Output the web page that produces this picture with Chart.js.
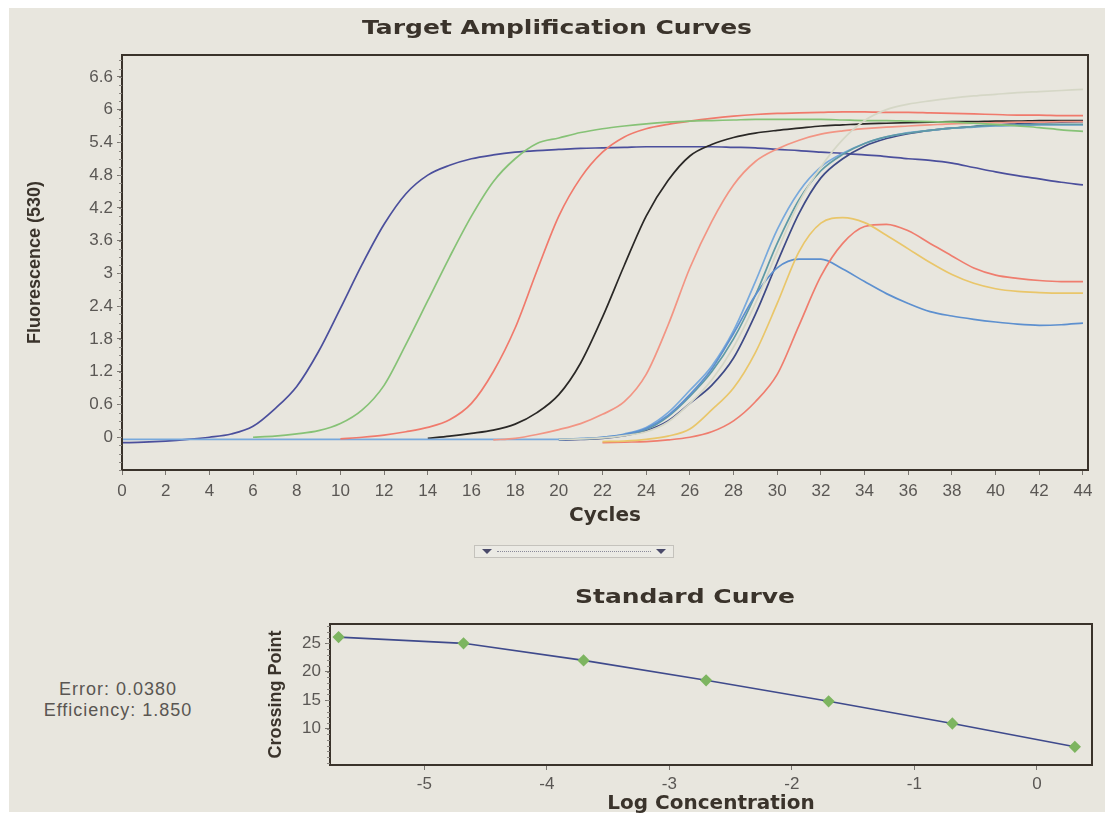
<!DOCTYPE html>
<html>
<head>
<meta charset="utf-8">
<script src="https://cdn.jsdelivr.net/npm/chart.js@4.4.1/dist/chart.umd.min.js"></script>
<style>
  body { margin: 0; background: #fff; }
  #paper { position: absolute; left: 9px; top: 8px; width: 1096px; height: 804px; background: #e8e6de; }
  canvas { position: absolute; }
  #ampChart { left: 9px; top: 8px; }
  #stdChart { left: 265px; top: 570px; }
  .stats { position: absolute; left: 20px; width: 196px; text-align: center; font: 18px "Liberation Sans", Arial, sans-serif; color: #5a5652; letter-spacing: 1px; }
  #slider { position: absolute; left: 474px; top: 545px; width: 198px; height: 11px; border: 1px solid #c4c2bc; background: #ebeae4; }
  #slider .dots { position: absolute; left: 22px; right: 22px; top: 5px; border-top: 1px dotted #8a8a9a; }
  #slider .tri { position: absolute; top: 3px; width: 0; height: 0; border-left: 5px solid transparent; border-right: 5px solid transparent; border-top: 5px solid #4a4a6a; }
</style>
</head>
<body>
<div id="paper"></div>
<canvas id="ampChart" width="1096" height="530"></canvas>
<div id="slider"><div class="tri" style="left:7px"></div><div class="dots"></div><div class="tri" style="right:7px"></div></div>
<div class="stats" style="top:679px">Error: 0.0380</div>
<div class="stats" style="top:700px">Efficiency: 1.850</div>
<canvas id="stdChart" width="840" height="246"></canvas>
<script>
// amplification curves, one value per cycle (null = not plotted yet)
const cycles = [0,1,2,3,4,5,6,7,8,9,10,11,12,13,14,15,16,17,18,19,20,21,22,23,24,25,26,27,28,29,30,31,32,33,34,35,36,37,38,39,40,41,42,43,44];
const cycleTicks = [0,2,4,6,8,10,12,14,16,18,20,22,24,26,28,30,32,34,36,38,40,42,44];
const fluorTicks = [0,0.6,1.2,1.8,2.4,3,3.6,4.2,4.8,5.4,6,6.6];

const navy1 = [-0.10,-0.09,-0.07,-0.04,0.00,0.06,0.20,0.52,0.93,1.57, 2.36,3.17,3.90,4.46,4.80,4.98,5.10,5.17,5.22,5.25, 5.27,5.29,5.30,5.31,5.32,5.32,5.32,5.32,5.31,5.30, 5.27,5.25,5.22,5.20,5.17,5.14,5.10,5.07,5.02,4.94, 4.86,4.79,4.73,4.67,4.62];
const green = [null,null,null,null,null,null,0.00,0.02,0.06,0.12, 0.25,0.50,0.95,1.70,2.50,3.30,4.05,4.68,5.10,5.38, 5.48,5.58,5.65,5.70,5.74,5.77,5.79,5.80,5.81,5.82, 5.82,5.82,5.82,5.81,5.80,5.80,5.79,5.78,5.77,5.75, 5.73,5.70,5.67,5.63,5.60];
const red1 = [null,null,null,null,null,null,null,null,null,null, -0.03,0.00,0.04,0.10,0.18,0.32,0.62,1.20,2.00,3.05, 4.05,4.75,5.22,5.50,5.65,5.73,5.79,5.84,5.88,5.91, 5.93,5.94,5.95,5.96,5.96,5.95,5.95,5.94,5.93,5.92, 5.91,5.90,5.90,5.89,5.89];
const black = [null,null,null,null,null,null,null,null,null,null, null,null,null,null,-0.02,0.02,0.07,0.13,0.24,0.45, 0.78,1.36,2.20,3.15,4.05,4.70,5.15,5.36,5.49,5.57, 5.62,5.66,5.70,5.72,5.74,5.75,5.76,5.77,5.78,5.78, 5.79,5.79,5.80,5.80,5.80];
const red2 = [null,null,null,null,null,null,null,null,null,null, null,null,null,null,null,null,null,-0.05,-0.02,0.05, 0.14,0.25,0.42,0.65,1.15,2.05,3.10,3.95,4.62,5.05, 5.28,5.44,5.55,5.61,5.65,5.68,5.70,5.72,5.74,5.75, 5.76,5.77,5.77,5.78,5.78];
const lightBlue = [-0.04,-0.04,-0.04,-0.04,-0.04,-0.04,-0.04,-0.04,-0.04,-0.04, -0.04,-0.04,-0.04,-0.04,-0.04,-0.04,-0.04,-0.04,-0.04,-0.04, -0.04,-0.02,0.00,0.06,0.18,0.45,0.86,1.30,1.95,2.85, 3.80,4.50,4.95,5.20,5.38,5.50,5.58,5.62,5.66,5.68, 5.70,5.71,5.72,5.72,5.72];
const teal = [null,null,null,null,null,null,null,null,null,null, null,null,null,null,null,null,null,null,null,null, -0.04,-0.03,-0.01,0.04,0.14,0.38,0.75,1.20,1.80,2.60, 3.55,4.35,4.88,5.18,5.38,5.50,5.57,5.62,5.66,5.69, 5.71,5.72,5.73,5.73,5.73];
const navy2 = [null,null,null,null,null,null,null,null,null,null, null,null,null,null,null,null,null,null,null,null, -0.05,-0.04,-0.02,0.03,0.12,0.30,0.62,0.95,1.45,2.25, 3.20,4.10,4.75,5.10,5.33,5.47,5.56,5.62,5.66,5.69, 5.72,5.74,5.76,5.77,5.78];
const bluePeak = [null,null,null,null,null,null,null,null,null,null, null,null,null,null,null,null,null,null,null,null, -0.04,-0.03,0.00,0.05,0.16,0.40,0.78,1.25,1.90,2.60, 3.10,3.26,3.26,3.08,2.85,2.63,2.45,2.30,2.22,2.16, 2.11,2.07,2.05,2.06,2.09];
const yellowPeak = [null,null,null,null,null,null,null,null,null,null, null,null,null,null,null,null,null,null,null,null, null,null,-0.08,-0.07,-0.04,0.02,0.15,0.50,0.90,1.55, 2.45,3.40,3.92,4.02,3.93,3.70,3.45,3.20,2.98,2.82, 2.72,2.67,2.65,2.64,2.64];
const redPeak = [null,null,null,null,null,null,null,null,null,null, null,null,null,null,null,null,null,null,null,null, null,null,-0.10,-0.09,-0.08,-0.05,0.00,0.10,0.30,0.65, 1.15,2.05,2.95,3.55,3.86,3.90,3.78,3.55,3.32,3.10, 2.97,2.91,2.87,2.85,2.85];
const paleGrey = [null,null,null,null,null,null,null,null,null,null, null,null,null,null,null,null,null,null,null,null, -0.04,-0.03,-0.01,0.03,0.10,0.28,0.62,1.05,1.65,2.45, 3.40,4.30,4.95,5.45,5.80,6.00,6.10,6.16,6.21,6.25, 6.28,6.31,6.33,6.35,6.37];

// standard curve
const logConc = [-5.70,-4.68,-3.70,-2.70,-1.70,-0.69,0.31];
const crossingPoint = [26.1,25.0,22.0,18.5,14.8,10.9,6.8];
const logTicks = [-5,-4,-3,-2,-1,0];
const cpTicks = [10,15,20,25];

const curves = [
  { values: paleGrey, color: "#d5d7c6" },
  { values: green, color: "#86c276" },
  { values: red1, color: "#f07a6c" },
  { values: red2, color: "#f29584" },
  { values: yellowPeak, color: "#e9c66a" },
  { values: redPeak, color: "#ef7d6e" },
  { values: bluePeak, color: "#5d90cf" },
  { values: teal, color: "#5f9aa6" },
  { values: lightBlue, color: "#78a9dc" },
  { values: navy2, color: "#3e4a86" },
  { values: black, color: "#2a2826" },
  { values: navy1, color: "#4b4f9c" },
];

const inkColor = "#3a332b";
const tickColor = "#5a5754";

// box round the plot area plus short minor ticks on the y axis
const frame = {
  id: "frame",
  afterDatasetsDraw(chart, args, opts) {
    const { ctx, chartArea: a } = chart;
    ctx.save();
    ctx.strokeStyle = inkColor;
    ctx.lineWidth = 2;
    ctx.strokeRect(a.left, a.top, a.right - a.left, a.bottom - a.top);
    const y = chart.scales.y;
    ctx.strokeStyle = "#8a8680";
    ctx.lineWidth = 1;
    ctx.beginPath();
    for (let v = Math.ceil(y.min / opts.minorStep) * opts.minorStep; v <= y.max; v += opts.minorStep) {
      const py = Math.round(y.getPixelForValue(v)) + 0.5;
      ctx.moveTo(a.left - 3, py);
      ctx.lineTo(a.left, py);
    }
    ctx.stroke();
    ctx.restore();
  }
};

// the software's titles use a wide heavy face, so stretch the text a bit
const wideTitle = {
  id: "wideTitle",
  afterDraw(chart, args, opts) {
    const ctx = chart.ctx;
    ctx.save();
    ctx.font = "bold " + opts.size + "px 'DejaVu Sans'";
    ctx.fillStyle = inkColor;
    ctx.textAlign = "center";
    ctx.textBaseline = "middle";
    ctx.translate(chart.width / 2, opts.y);
    ctx.scale(opts.stretch, 1);
    ctx.fillText(opts.text, 0, 0);
    ctx.restore();
  }
};

const axisGrid = { drawOnChartArea: false, drawTicks: true, tickLength: 5, tickColor: "#7a7670", lineWidth: 1 };

new Chart(document.getElementById("ampChart"), {
  type: "line",
  data: {
    datasets: curves.map((c) => ({
      data: cycles.map((x, i) => ({ x: x, y: c.values[i] })),
      borderColor: c.color,
      borderWidth: 1.7,
      pointRadius: 0,
      cubicInterpolationMode: "monotone",
      fill: false,
    })),
  },
  options: {
    responsive: false,
    animation: false,
    events: [],
    layout: { padding: { top: 47, left: 0, right: 17, bottom: 0 } },
    plugins: {
      legend: { display: false },
      tooltip: { enabled: false },
      frame: { minorStep: 0.15 },
      wideTitle: { text: "Target Amplification Curves", size: 20, stretch: 1.25, y: 21 },
    },
    scales: {
      x: {
        type: "linear",
        min: 0,
        max: 44.23,
        afterBuildTicks: (s) => { s.ticks = cycleTicks.map((v) => ({ value: v })); },
        afterFit: (s) => { s.height = 68; },
        ticks: { color: tickColor, font: { family: "Liberation Sans", size: 17 }, padding: 6, maxRotation: 0 },
        grid: axisGrid,
        border: { display: false },
        title: { display: true, text: "Cycles", color: inkColor, font: { family: "DejaVu Sans", size: 20, weight: "bold" }, padding: { top: 0, bottom: 10 } },
      },
      y: {
        min: -0.6,
        max: 7.0,
        afterBuildTicks: (s) => { s.ticks = fluorTicks.map((v) => ({ value: v })); },
        afterFit: (s) => { s.width = 113; },
        ticks: { color: tickColor, font: { family: "Liberation Sans", size: 17 }, padding: 4, callback: (v) => String(v) },
        grid: axisGrid,
        border: { display: false },
        title: { display: true, text: "Fluorescence (530)", color: inkColor, font: { family: "Liberation Sans", size: 18, weight: "bold" }, padding: { top: 15, bottom: 0 } },
      },
    },
  },
  plugins: [frame, wideTitle],
});

new Chart(document.getElementById("stdChart"), {
  type: "line",
  data: {
    datasets: [{
      data: logConc.map((x, i) => ({ x: x, y: crossingPoint[i] })),
      borderColor: "#3f4a8c",
      borderWidth: 1.6,
      pointStyle: "rectRot",
      pointRadius: 5,
      pointBackgroundColor: "#7db560",
      pointBorderColor: "#7db560",
      tension: 0,
      fill: false,
    }],
  },
  options: {
    responsive: false,
    animation: false,
    events: [],
    layout: { padding: { top: 54, left: 0, right: 13, bottom: 0 } },
    plugins: {
      legend: { display: false },
      tooltip: { enabled: false },
      frame: { minorStep: 1 },
      wideTitle: { text: "Standard Curve", size: 20, stretch: 1.25, y: 28 },
    },
    scales: {
      x: {
        type: "linear",
        min: -5.77,
        max: 0.45,
        afterBuildTicks: (s) => { s.ticks = logTicks.map((v) => ({ value: v })); },
        afterFit: (s) => { s.height = 51; },
        ticks: { color: tickColor, font: { family: "Liberation Sans", size: 17 }, padding: 4, maxRotation: 0 },
        grid: axisGrid,
        border: { display: false },
        title: { display: true, text: "Log Concentration", color: inkColor, font: { family: "DejaVu Sans", size: 20, weight: "bold" }, padding: { top: 0, bottom: 0 } },
      },
      y: {
        min: 3.6,
        max: 28.4,
        afterBuildTicks: (s) => { s.ticks = cpTicks.map((v) => ({ value: v })); },
        afterFit: (s) => { s.width = 65; },
        ticks: { color: tickColor, font: { family: "Liberation Sans", size: 17 }, padding: 4 },
        grid: axisGrid,
        border: { display: false },
        title: { display: true, text: "Crossing Point", color: inkColor, font: { family: "Liberation Sans", size: 18, weight: "bold" }, padding: { top: 0, bottom: 0 } },
      },
    },
  },
  plugins: [frame, wideTitle],
});
</script>
</body>
</html>
